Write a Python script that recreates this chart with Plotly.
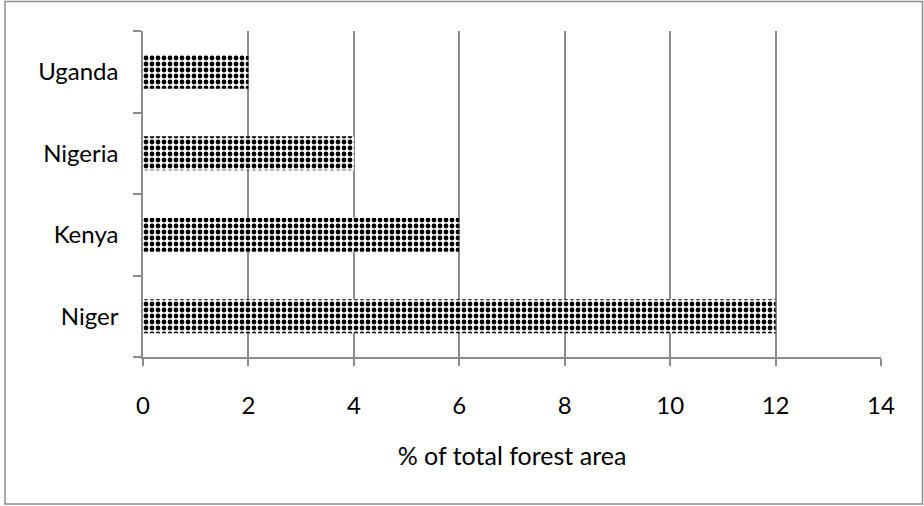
import plotly.graph_objects as go

# Share of total forest area by country (bottom to top)
countries = ["Niger", "Kenya", "Nigeria", "Uganda"]
forest_share = [12, 6, 4, 2]
x_ticks = [0, 2, 4, 6, 8, 10, 12, 14]

W, H = 924, 506
L, R, T, B = 143, 43, 31, 149
pw, ph = W - L - R, H - T - B

def px_x(p):
    return (p - L) / pw

def px_y(p):
    return (H - B - p) / ph

FONT = "Lato"
GRID = "#8c8c8c"

fig = go.Figure(
    go.Bar(
        x=forest_share,
        y=countries,
        orientation="h",
        marker=dict(
            color="white",
            line=dict(width=0),
            pattern=dict(shape=".", fgcolor="black", bgcolor="white",
                         size=6, solidity=0.5, fillmode="replace",
                         fgopacity=1),
        ),
        hoverinfo="x+y",
    )
)

fig.update_layout(
    width=W, height=H,
    margin=dict(l=L, r=R, t=T, b=B, autoexpand=False),
    paper_bgcolor="white", plot_bgcolor="white",
    bargap=0.58,
    showlegend=False,
    font=dict(family=FONT, size=24, color="black"),
    xaxis=dict(
        range=[0, 14], tickvals=x_ticks, ticktext=[str(v) for v in x_ticks],
        showgrid=True, gridcolor=GRID, gridwidth=1.5,
        showline=True, linecolor=GRID, linewidth=1.5,
        ticks="outside", ticklen=7, tickcolor=GRID, tickwidth=1.5,
        ticklabelstandoff=19,
        zeroline=False,
        title=dict(text="% of total forest area", standoff=30,
                   font=dict(family=FONT, size=25)),
        fixedrange=True,
    ),
    yaxis=dict(
        type="category", categoryorder="array", categoryarray=countries,
        showgrid=False, zeroline=False,
        showline=True, linecolor=GRID, linewidth=1.5,
        ticks="outside", ticklen=8, tickcolor=GRID, tickwidth=1.5,
        tickson="boundaries", ticklabelstandoff=18,
        fixedrange=True,
    ),
    shapes=[
        dict(type="rect", xref="paper", yref="paper",
             x0=px_x(5), x1=px_x(922.5), y0=px_y(504), y1=px_y(1.5),
             line=dict(color=GRID, width=1.5), fillcolor="rgba(0,0,0,0)",
             layer="below"),
    ],
)

fig.write_html("out.html")
